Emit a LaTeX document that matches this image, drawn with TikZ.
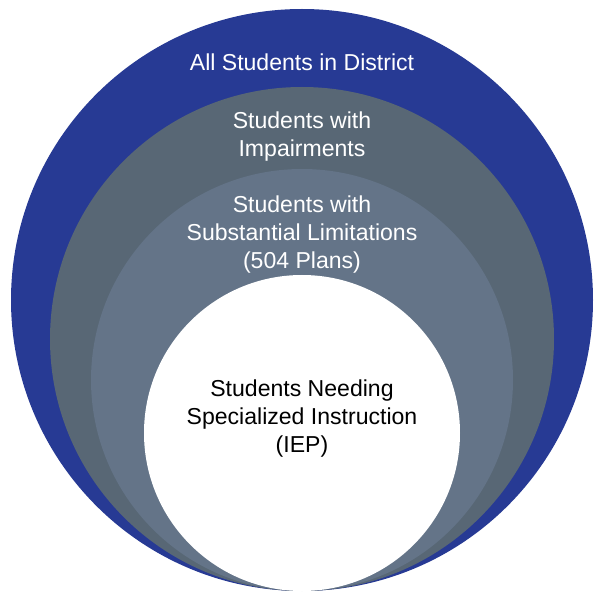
\documentclass[tikz,border=0pt]{standalone}
\usepackage{fontspec}
\setmainfont{Liberation Sans}
\definecolor{districtBlue}{HTML}{273A94}
\definecolor{impairSlate}{HTML}{586775}
\definecolor{limitSlate}{HTML}{647488}
\begin{document}
\begin{tikzpicture}
[ringDecorate/.style={shape=circle,inner sep=0pt,draw=none},%
  labelDecorate/.style={align=center,inner sep=0pt,font=\fontsize{16.4}{19.9}\selectfont}]
\useasboundingbox (0,0) rectangle (15,15);
%% nested circles, all touching at the bottom
\foreach \nodename/\y/\r/\col in {
  district/7.5/7.275/districtBlue, impair/6.525/6.3/impairSlate,
  limit/5.5/5.275/limitSlate, iep/4.175/3.95/white}
{
  \node (\nodename) at (7.55,\y) [ringDecorate,fill=\col,minimum size=2*\r cm] {};
}
%% labels
\node (districtText) at (7.55,13.45) [labelDecorate,text=white] {All Students in District};
\node (impairText) at (7.55,11.575) [labelDecorate,text=white] {Students with\\Impairments};
\node (limitText) at (7.55,9.135) [labelDecorate,text=white] {Students with\\Substantial Limitations\\(504 Plans)};
\node (iepText) at (7.55,4.533) [labelDecorate,text=black] {Students Needing\\Specialized Instruction\\(IEP)};
\end{tikzpicture}
\end{document}
